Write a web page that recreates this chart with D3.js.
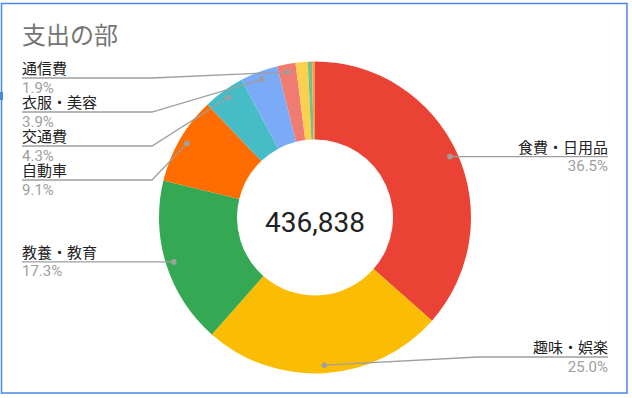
<!DOCTYPE html>
<html>
<head>
<meta charset="utf-8">
<script src="https://cdn.jsdelivr.net/npm/d3@7"></script>
<style>
  body { margin: 0; background: #fff; }
  svg { display: block; font-family: Roboto, 'Noto Sans CJK JP', sans-serif; }
</style>
</head>
<body>
<svg></svg>
<script>
// categories, clockwise from 12 o'clock
let categories = ['食費・日用品', '趣味・娯楽', '教養・教育', '自動車', '交通費', '衣服・美容', '通信費', '保険・医療', '税金', 'その他'];
let amounts = [159446, 109210, 75573, 39752, 18784, 17037, 8300, 5500, 1900, 1336];
let colors = ['#ea4335', '#fbbc04', '#34a853', '#ff6d01', '#46bdc6', '#7baaf7', '#f07b72', '#fcd04f', '#71c287', '#ff994d'];
let labelled = ['食費・日用品', '趣味・娯楽', '教養・教育', '自動車', '交通費', '衣服・美容', '通信費'];
let title = '支出の部';

let width = 632;
let height = 398;
let cx = 315;
let cy = 217.5;
let outerR = 156;
let innerR = 78;
let dotR = 148;

let svg = d3.select('svg')
    .attr('width', width)
    .attr('height', height);

// chart frame (selected state in the sheet)
svg.append('rect')
   .attr('x', 1.5).attr('y', 3.5)
   .attr('width', 625.5).attr('height', 389.5)
   .attr('fill', 'none')
   .attr('stroke', '#4a86e8')
   .attr('stroke-width', 1.5);
svg.append('rect')
   .attr('x', 0).attr('y', 92)
   .attr('width', 3).attr('height', 8)
   .attr('fill', '#4a86e8');

svg.append('text')
   .attr('x', 22).attr('y', 44)
   .attr('font-size', 24)
   .attr('fill', '#757575')
   .text(title);

let values = categories.map((c, i) => ({ name: c, value: amounts[i], color: colors[i] }));
let total = d3.sum(amounts);

let pie = d3.pie().sort(null).value(d => d.value);
let arcs = pie(values);
let arc = d3.arc().innerRadius(innerR).outerRadius(outerR);

let g = svg.append('g').attr('transform', `translate(${cx},${cy})`);

g.selectAll('path')
 .data(arcs)
 .enter()
 .append('path')
 .attr('d', arc)
 .attr('fill', d => d.data.color);

g.append('text')
 .attr('text-anchor', 'middle')
 .attr('y', 14)
 .attr('font-size', 28)
 .attr('fill', '#222')
 .text(d3.format(',')(total));

// label layout
let fmt = d3.format('.1f');
let dotArc = d3.arc().innerRadius(dotR).outerRadius(dotR);
let labels = arcs.filter(a => labelled.includes(a.data.name)).map(a => {
    let p = dotArc.centroid(a);
    return { a: a, x: cx + p[0], y: cy + p[1], left: p[0] < 0 };
});

let spacing = 34;
let leftSide = labels.filter(l => l.left).sort((a, b) => a.y - b.y);
let prev = 78 - spacing;
leftSide.forEach(l => { l.ly = Math.max(l.y, prev + spacing); prev = l.ly; });

let rightSide = labels.filter(l => !l.left).sort((a, b) => b.y - a.y);
prev = 357 + spacing;
rightSide.forEach(l => { l.ly = Math.min(l.y, prev - spacing); prev = l.ly; });

let leftX = 22;
let rightX = 608;
let run = 130;

labels.forEach(l => {
    let edge = l.left ? leftX : rightX;
    let elbow = l.left ? Math.min(l.x, leftX + run) : Math.max(l.x, rightX - run);
    svg.append('path')
       .attr('d', d3.line()([[edge, l.ly], [elbow, l.ly], [l.x, l.y]]))
       .attr('fill', 'none')
       .attr('stroke', '#9e9e9e')
       .attr('stroke-width', 1.3);
    svg.append('circle')
       .attr('cx', l.x).attr('cy', l.y)
       .attr('r', 2.8)
       .attr('fill', '#9e9e9e');
    let anchor = l.left ? 'start' : 'end';
    svg.append('text')
       .attr('x', edge).attr('y', l.ly - 4)
       .attr('text-anchor', anchor)
       .attr('font-size', 15)
       .attr('fill', '#222')
       .text(l.a.data.name);
    svg.append('text')
       .attr('x', edge).attr('y', l.ly + 14.5)
       .attr('text-anchor', anchor)
       .attr('font-size', 15)
       .attr('fill', '#9e9e9e')
       .text(fmt(l.a.data.value / total * 100) + '%');
});
</script>
</body>
</html>
